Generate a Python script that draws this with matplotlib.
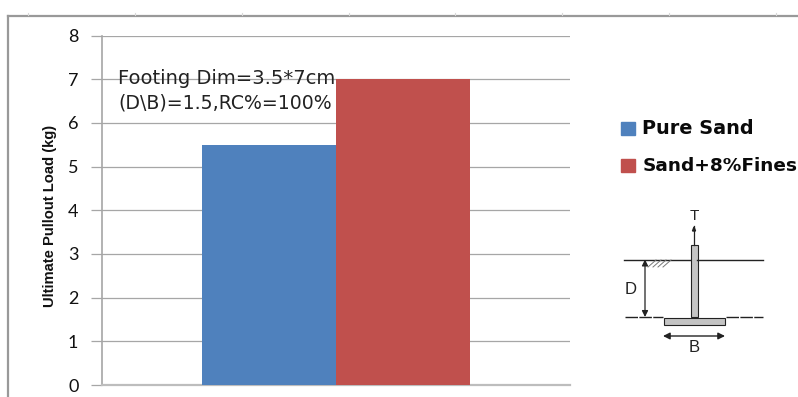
import matplotlib
matplotlib.use('Agg')
import matplotlib.pyplot as plt
from matplotlib.patches import Rectangle, Polygon

series = ['Pure Sand', 'Sand+8%Fines']
values = [5.5, 7.0]
colors = ['#4F81BD', '#C0504D']
yticks = [0, 1, 2, 3, 4, 5, 6, 7, 8]
ylabel = 'Ultimate Pullout Load (kg)'
note = 'Footing Dim=3.5*7cm\n(D\\B)=1.5,RC%=100%'
W, H = 798, 397
ruler_x = [28, 135, 242, 349, 455, 562, 669, 776]

fig = plt.figure(figsize=(W / 100, H / 100), dpi=100)

# page layer in pixel coordinates, used for the frame and the sketch
pg = fig.add_axes([0, 0, 1, 1])
pg.set_xlim(0, W)
pg.set_ylim(H, 0)
pg.axis('off')

# outer frame
pg.plot([8, W], [15.5, 15.5], color='#999999', lw=1.6)
pg.plot([8, 8], [15.5, H], color='#999999', lw=1.6)
for x in ruler_x:
    pg.plot([x, x], [12.5, 15], color='#d8d8d8', lw=0.8)

# bar chart
ax = fig.add_axes([102 / W, 1 - 385 / H, 468 / W, 349.5 / H])
ax.patch.set_alpha(0)
x_pos = [-0.143, 0.143]
for i in range(2):
    ax.bar(x_pos[i], values[i], width=0.286, color=colors[i], label=series[i], zorder=3)
ax.set_xlim(-0.5, 0.5)
ax.set_ylim(0, 8)
ax.set_xticks([])
ax.set_yticks(yticks)
ax.grid(axis='y', color='#a6a6a6', lw=0.9, zorder=1)
ax.set_axisbelow(True)
for s in ['top', 'right']:
    ax.spines[s].set_visible(False)
ax.spines['left'].set_color('#a6a6a6')
ax.spines['left'].set_linewidth(1.2)
ax.spines['bottom'].set_color('#bdbdbd')
ax.spines['bottom'].set_linewidth(1.6)
ax.tick_params(axis='y', length=8, width=0.9, color='#a6a6a6', pad=9, labelsize=13)
for t in ax.get_yticklabels():
    t.set_fontfamily(['Lato', 'DejaVu Sans'])
    t.set_color('#111111')

pg.text(50, 216, ylabel, rotation=90, ha='center', va='center', fontsize=10.6,
        fontweight='bold', family=['Liberation Sans Narrow', 'Liberation Sans'], color='#111111')

# note over the bars
lines = note.split('\n')
fig.text(118 / W, 1 - 78 / H, lines[0], fontsize=14, va='center', color='#222222', zorder=10)
fig.text(118 / W, 1 - 103 / H, lines[1], fontsize=13.6, va='center', color='#222222', zorder=10)

# legend
legend_sizes = [13.9, 13.3]
for i, y in enumerate([129, 166]):
    pg.add_patch(Rectangle((621, y - 7), 14, 13, color=colors[i]))
    pg.text(642.5, y, series[i], fontsize=legend_sizes[i], fontweight='bold', va='center', color='#0a0a0a',
            family=['DejaVu Sans'])

# footing sketch
dark = '#222222'
pg.plot([624, 690], [259.5, 259.5], color=dark, lw=1.0)
pg.plot([697, 763], [259.5, 259.5], color=dark, lw=1.0)
pg.plot([625, 663], [317, 317], color=dark, lw=1.0, ls=(0, (9, 1)))
pg.plot([726, 763], [317, 317], color=dark, lw=1.0, ls=(0, (9, 1)))
pg.plot([694, 694], [226, 245], color=dark, lw=0.9)
pg.add_patch(Polygon([[692.5, 231], [695.5, 231], [694, 227]], color=dark))
pg.add_patch(Rectangle((690.5, 245), 7, 72, fc='#c4c4c4', ec=dark, lw=0.8))
pg.add_patch(Rectangle((663.5, 317.5), 61.5, 7, fc='#c4c4c4', ec=dark, lw=0.8))
for i in range(4):
    pg.plot([648 + i * 5, 656 + i * 5], [267, 260], color='#777777', lw=0.7)
pg.annotate('', xy=(645, 259.5), xytext=(645, 317),
            arrowprops=dict(arrowstyle='<|-|>', color=dark, lw=0.9, mutation_scale=9, shrinkA=0, shrinkB=0))
pg.annotate('', xy=(663, 336), xytext=(725, 336),
            arrowprops=dict(arrowstyle='<|-|>', color=dark, lw=1.0, mutation_scale=10, shrinkA=0, shrinkB=0))
sketch_font = ['Liberation Sans', 'DejaVu Sans']
pg.text(694, 216.5, 'T', fontsize=11, ha='center', va='center', family=sketch_font, color=dark)
pg.text(631, 289, 'D', fontsize=12, ha='center', va='center', family=sketch_font, color=dark)
pg.text(694.5, 347, 'B', fontsize=12, ha='center', va='center', family=sketch_font, color=dark)

fig.savefig('out.png', dpi=100)
